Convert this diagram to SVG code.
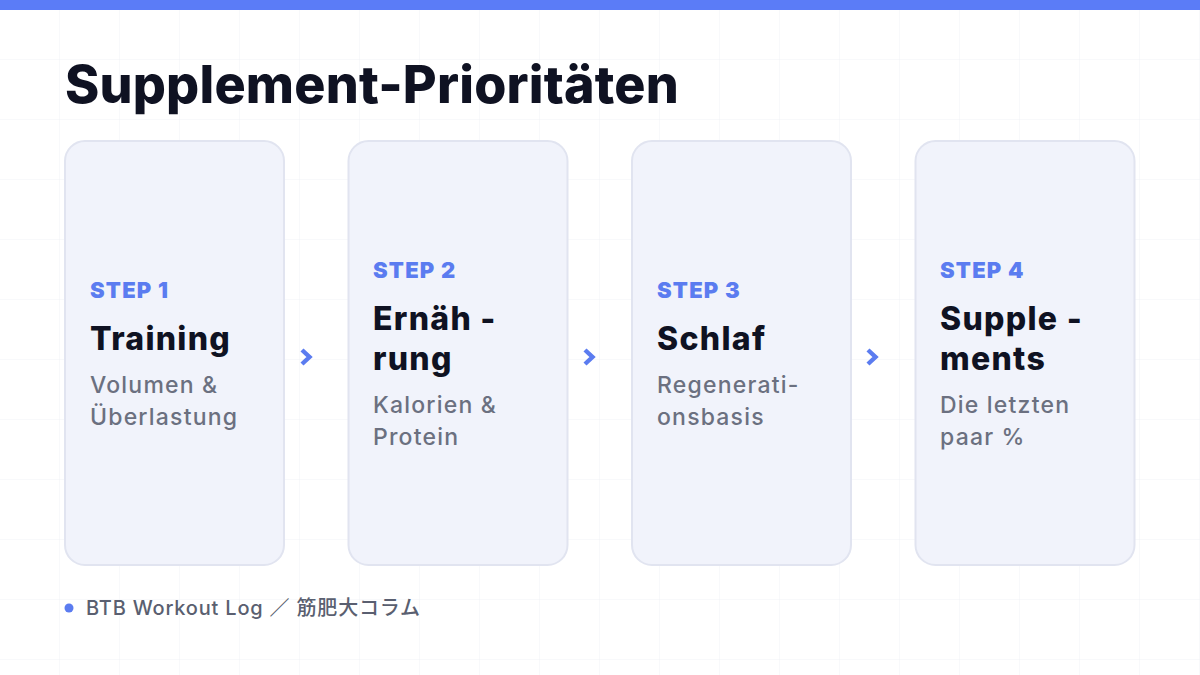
<svg xmlns="http://www.w3.org/2000/svg" width="1200" height="675" viewBox="0 0 1200 675">
<defs>
<pattern id="grid" width="60" height="60" patternUnits="userSpaceOnUse">
<path d="M60 0V60M0 60H60" fill="none" stroke="#f1f2f6" stroke-width="1"/>
</pattern>
</defs>
<style>
.card{fill:#f1f3fb;stroke:#e1e4f0;stroke-width:2}
.step{font-family:Inter,"Noto Sans",sans-serif;font-weight:900;font-size:22px;fill:#5b7cf0;letter-spacing:1.2px}
.title{font-family:Inter,"Noto Sans",sans-serif;font-weight:800;font-size:32px;fill:#0f1222;letter-spacing:1.3px}
.desc{font-family:Inter,"Noto Sans",sans-serif;font-weight:500;font-size:23px;fill:#6b7080;letter-spacing:1.2px}
.chev{fill:none;stroke:#5b7cf0;stroke-width:4.4;stroke-linecap:butt;stroke-linejoin:miter}
</style>
<rect width="1200" height="675" fill="#ffffff"/>
<rect width="1200" height="675" fill="url(#grid)"/>
<rect x="0" y="0" width="1200" height="10" fill="#5b7cf7"/>
<text x="65" y="103" font-family="Inter,'Noto Sans',sans-serif" font-weight="800" font-size="52" fill="#0f1222" letter-spacing="0.2">Supplement-Prioritäten</text>
<g id="step1">
<rect class="card" x="65" y="141" width="219" height="424" rx="20"/>
<text class="step" x="90" y="298">STEP 1</text>
<text class="title" x="90" y="350">Training</text>
<text class="desc" x="90" y="393">Volumen &amp;</text>
<text class="desc" x="90" y="425">Überlastung</text>
</g>
<g id="step2">
<rect class="card" x="348.5" y="141" width="219" height="424" rx="20"/>
<text class="step" x="373" y="278">STEP 2</text>
<text class="title" x="373" y="330">Ernäh -</text>
<text class="title" x="373" y="370">rung</text>
<text class="desc" x="373" y="413">Kalorien &amp;</text>
<text class="desc" x="373" y="445">Protein</text>
</g>
<g id="step3">
<rect class="card" x="632" y="141" width="219" height="424" rx="20"/>
<text class="step" x="657" y="298">STEP 3</text>
<text class="title" x="657" y="350">Schlaf</text>
<text class="desc" x="657" y="393">Regenerati-</text>
<text class="desc" x="657" y="425">onsbasis</text>
</g>
<g id="step4">
<rect class="card" x="915.5" y="141" width="219" height="424" rx="20"/>
<text class="step" x="940" y="278">STEP 4</text>
<text class="title" x="940" y="330">Supple -</text>
<text class="title" x="940" y="370">ments</text>
<text class="desc" x="940" y="413">Die letzten</text>
<text class="desc" x="940" y="445">paar %</text>
</g>
<g id="connectors">
<path class="chev" d="M302 350L309.5 357L302 364"/>
<path class="chev" d="M585 350L592.5 357L585 364"/>
<path class="chev" d="M868 350L875.5 357L868 364"/>
</g>
<g id="footer">
<circle cx="69" cy="608" r="4.5" fill="#5b7cf0"/>
<text x="86" y="615" font-family="Inter,'Noto Sans CJK JP',sans-serif" font-weight="500" font-size="20" fill="#5a5f70" letter-spacing="0.8">BTB Workout Log ／ 筋肥大コラム</text>
</g>
</svg>
